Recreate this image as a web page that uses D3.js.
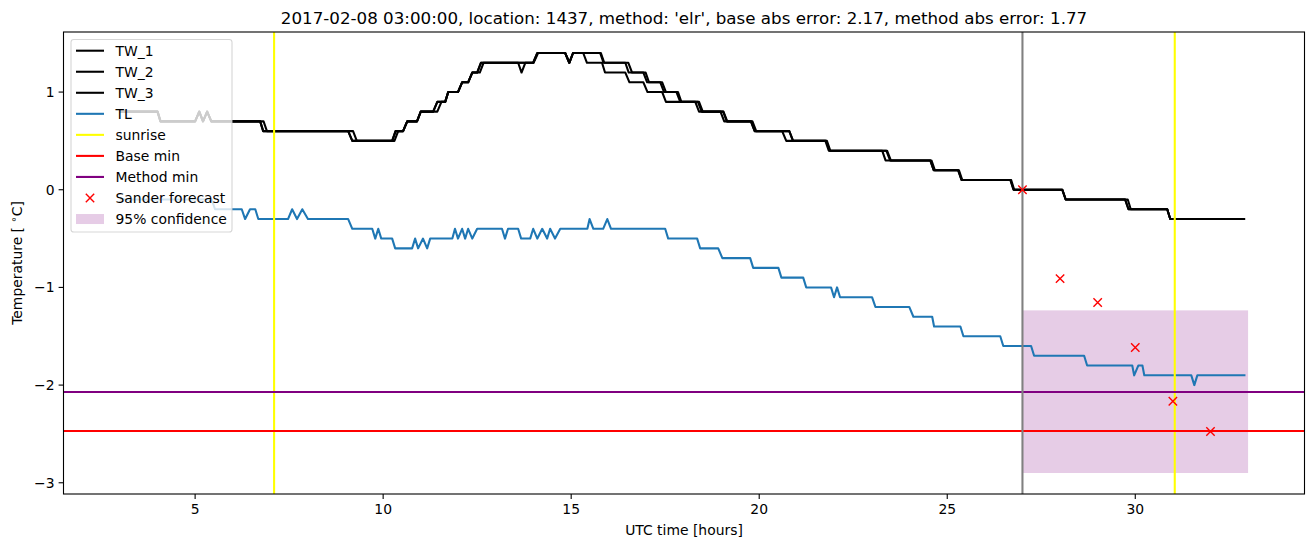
<!DOCTYPE html>
<html><head><meta charset="utf-8">
<script src="https://cdn.jsdelivr.net/npm/d3@7"></script>
<style>body{margin:0;background:#fff} svg{display:block} text{font-family:"DejaVu Sans",sans-serif;fill:#000}</style>
</head><body><svg id="c" width="1313" height="547"></svg>
<script>
// ---- data (hours UTC, temperature degC) ----
const TW_1 = [[3.0,0.8],[4.0,0.8],[4.08,0.7],[5.0,0.7],[5.11,0.8],[5.21,0.7],[5.32,0.8],[5.43,0.7],[6.73,0.7],[6.81,0.6],[9.07,0.6],[9.18,0.5],[10.24,0.5],[10.33,0.6],[10.53,0.6],[10.64,0.7],[10.9,0.7],[11.0,0.8],[11.33,0.8],[11.44,0.9],[11.65,0.9],[11.73,1.0],[11.99,1.0],[12.1,1.1],[12.26,1.1],[12.37,1.2],[12.5,1.2],[12.6,1.3],[13.59,1.3],[13.68,1.2],[13.78,1.3],[13.99,1.3],[14.1,1.4],[14.84,1.4],[14.95,1.3],[15.05,1.4],[15.32,1.4],[15.42,1.3],[15.82,1.3],[15.9,1.2],[16.44,1.2],[16.55,1.1],[16.92,1.1],[17.03,1.0],[17.42,1.0],[17.52,0.9],[18.3,0.9],[18.4,0.8],[18.97,0.8],[19.07,0.7],[19.78,0.7],[19.88,0.6],[20.61,0.6],[20.72,0.5],[21.76,0.5],[21.85,0.4],[23.27,0.4],[23.36,0.3],[24.55,0.3],[24.64,0.2],[25.29,0.2],[25.38,0.1],[26.68,0.1],[26.76,0.0],[28.06,0.0],[28.15,-0.1],[29.73,-0.1],[29.82,-0.2],[30.85,-0.2],[30.93,-0.3],[32.92,-0.3]];
const TW_2 = [[3.0,0.8],[4.0,0.8],[4.08,0.7],[5.0,0.7],[5.11,0.8],[5.21,0.7],[5.32,0.8],[5.43,0.7],[6.73,0.7],[6.81,0.6],[9.07,0.6],[9.18,0.5],[10.24,0.5],[10.33,0.6],[10.53,0.6],[10.64,0.7],[10.9,0.7],[11.0,0.8],[11.33,0.8],[11.44,0.9],[11.65,0.9],[11.73,1.0],[11.99,1.0],[12.1,1.1],[12.26,1.1],[12.37,1.2],[12.5,1.2],[12.6,1.3],[13.99,1.3],[14.1,1.4],[14.84,1.4],[14.95,1.3],[15.05,1.4],[15.77,1.4],[15.86,1.3],[16.44,1.3],[16.53,1.2],[16.92,1.2],[17.02,1.1],[17.37,1.1],[17.47,1.0],[17.8,1.0],[17.9,0.9],[18.37,0.9],[18.47,0.8],[19.04,0.8],[19.14,0.7],[19.78,0.7],[19.88,0.6],[20.8,0.6],[20.9,0.5],[21.8,0.5],[21.89,0.4],[23.38,0.4],[23.48,0.3],[24.58,0.3],[24.67,0.2],[25.31,0.2],[25.4,0.1],[26.68,0.1],[26.77,0.0],[28.06,0.0],[28.15,-0.1],[29.8,-0.1],[29.88,-0.2],[30.85,-0.2],[30.93,-0.3],[32.92,-0.3]];
const TW_3 = [[3.0,0.8],[4.0,0.8],[4.08,0.7],[5.0,0.7],[5.11,0.8],[5.21,0.7],[5.32,0.8],[5.43,0.7],[6.82,0.7],[6.91,0.6],[9.2,0.6],[9.3,0.5],[10.3,0.5],[10.4,0.6],[10.53,0.6],[10.64,0.7],[10.9,0.7],[11.0,0.8],[11.44,0.8],[11.55,0.9],[11.65,0.9],[11.73,1.0],[11.99,1.0],[12.1,1.1],[12.26,1.1],[12.37,1.2],[12.57,1.2],[12.67,1.3],[14.0,1.3],[14.12,1.4],[14.84,1.4],[14.95,1.3],[15.05,1.4],[15.79,1.4],[15.88,1.3],[16.52,1.3],[16.62,1.2],[16.98,1.2],[17.07,1.1],[17.42,1.1],[17.52,1.0],[17.84,1.0],[17.93,0.9],[18.4,0.9],[18.5,0.8],[19.05,0.8],[19.15,0.7],[19.82,0.7],[19.92,0.6],[20.8,0.6],[20.9,0.5],[21.78,0.5],[21.87,0.4],[23.4,0.4],[23.5,0.3],[24.55,0.3],[24.64,0.2],[25.29,0.2],[25.38,0.1],[26.7,0.1],[26.78,0.0],[28.06,0.0],[28.15,-0.1],[29.73,-0.1],[29.82,-0.2],[30.85,-0.2],[30.93,-0.3],[32.92,-0.3]];
const TL = [[3.0,-0.1],[5.44,-0.1],[5.53,-0.2],[6.24,-0.2],[6.33,-0.3],[6.46,-0.2],[6.6,-0.2],[6.68,-0.3],[7.47,-0.3],[7.58,-0.2],[7.71,-0.3],[7.85,-0.2],[8.0,-0.3],[9.07,-0.3],[9.18,-0.4],[9.71,-0.4],[9.79,-0.5],[9.87,-0.4],[9.95,-0.5],[10.24,-0.5],[10.32,-0.6],[10.77,-0.6],[10.85,-0.5],[10.93,-0.6],[11.06,-0.5],[11.17,-0.6],[11.25,-0.5],[11.84,-0.5],[11.91,-0.4],[11.99,-0.5],[12.1,-0.4],[12.18,-0.5],[12.26,-0.4],[12.37,-0.5],[12.5,-0.4],[13.16,-0.4],[13.24,-0.5],[13.32,-0.4],[13.59,-0.4],[13.67,-0.5],[13.91,-0.5],[13.99,-0.4],[14.1,-0.5],[14.23,-0.4],[14.36,-0.5],[14.44,-0.4],[14.57,-0.5],[14.71,-0.4],[15.43,-0.4],[15.49,-0.3],[15.59,-0.4],[15.85,-0.4],[15.96,-0.3],[16.06,-0.4],[17.5,-0.4],[17.58,-0.5],[18.35,-0.5],[18.43,-0.6],[18.91,-0.6],[19.02,-0.7],[19.76,-0.7],[19.84,-0.8],[20.51,-0.8],[20.59,-0.9],[21.17,-0.9],[21.25,-1.0],[21.91,-1.0],[21.99,-1.1],[22.07,-1.0],[22.15,-1.1],[23.0,-1.1],[23.09,-1.2],[23.99,-1.2],[24.1,-1.3],[24.6,-1.3],[24.65,-1.4],[25.35,-1.4],[25.43,-1.5],[26.41,-1.5],[26.49,-1.6],[27.23,-1.6],[27.31,-1.7],[28.64,-1.7],[28.72,-1.8],[29.92,-1.8],[29.97,-1.9],[30.08,-1.8],[30.19,-1.8],[30.24,-1.9],[31.49,-1.9],[31.57,-2.0],[31.65,-1.9],[32.93,-1.9]];
const forecastT = [27, 28, 29, 30, 31, 32];
const forecastV = [0.0, -0.91, -1.155, -1.615, -2.165, -2.475];
const sunriseT = [7.1, 31.05];
const baseMin = -2.47;
const methodMin = -2.07;
const forecastStartT = 27;
const confT = [27, 33];
const confLow = -2.9, confHigh = -1.235;
const xTicks = [5, 10, 15, 20, 25, 30];
const yTicks = [-3, -2, -1, 0, 1];
const titleText = "2017-02-08 03:00:00, location: 1437, method: 'elr', base abs error: 2.17, method abs error: 1.77";
const legendLabels = ["TW_1", "TW_2", "TW_3", "TL", "sunrise", "Base min", "Method min", "Sander forecast", "95% confidence"];

// ---- layout ----
const svg = d3.select("#c");
const L = 63.5, R = 1304.5, T = 32, B = 494;
const x = d3.scaleLinear().domain([1.5, 34.5]).range([L, R]);
const y = d3.scaleLinear().domain([-3.115, 1.615]).range([B, T]);
const LW = 2.08;

svg.append("defs").append("clipPath").attr("id", "clip")
  .append("rect").attr("x", L).attr("y", T).attr("width", R - L).attr("height", B - T);
const g = svg.append("g").attr("clip-path", "url(#clip)");

// confidence band
g.append("rect").attr("x", x(confT[0])).attr("width", x(confT[1]) - x(confT[0]))
  .attr("y", y(confHigh)).attr("height", y(confLow) - y(confHigh))
  .attr("fill", "purple").attr("fill-opacity", 0.2);

const line = d3.line().x(d => x(d[0])).y(d => y(d[1]));
[[TW_1, "#000"], [TW_2, "#000"], [TW_3, "#000"], [TL, "#1f77b4"]].forEach(([d, c]) => {
  g.append("path").datum(d).attr("d", line).attr("fill", "none").attr("stroke", c)
    .attr("stroke-width", LW).attr("stroke-linejoin", "round");
});
sunriseT.forEach(t => g.append("line").attr("x1", x(t)).attr("x2", x(t)).attr("y1", T).attr("y2", B)
  .attr("stroke", "yellow").attr("stroke-width", LW));
g.append("line").attr("x1", L).attr("x2", R).attr("y1", y(baseMin)).attr("y2", y(baseMin)).attr("stroke", "red").attr("stroke-width", LW);
g.append("line").attr("x1", L).attr("x2", R).attr("y1", y(methodMin)).attr("y2", y(methodMin)).attr("stroke", "purple").attr("stroke-width", LW);
g.append("line").attr("x1", x(forecastStartT)).attr("x2", x(forecastStartT)).attr("y1", T).attr("y2", B)
  .attr("stroke", "gray").attr("stroke-width", LW);

const ms = 4.2;
function xMark(sel, cx, cy) {
  sel.append("path").attr("d", `M${cx - ms},${cy - ms}L${cx + ms},${cy + ms}M${cx - ms},${cy + ms}L${cx + ms},${cy - ms}`)
    .attr("stroke", "red").attr("stroke-width", 1.4).attr("fill", "none");
}
forecastT.forEach((t, i) => xMark(g, x(t), y(forecastV[i])));

// ---- axes ----
const fs = 13.9;
const ax = svg.append("g");
ax.append("rect").attr("x", L).attr("y", T).attr("width", R - L).attr("height", B - T)
  .attr("fill", "none").attr("stroke", "#000").attr("stroke-width", 1.1);
xTicks.forEach(t => {
  ax.append("line").attr("x1", x(t)).attr("x2", x(t)).attr("y1", B).attr("y2", B + 4.9).attr("stroke", "#000").attr("stroke-width", 1.1);
  ax.append("text").attr("x", x(t)).attr("y", B + 20).attr("text-anchor", "middle").attr("font-size", fs).text(d3.format("d")(t));
});
yTicks.forEach(t => {
  ax.append("line").attr("x1", L - 4.9).attr("x2", L).attr("y1", y(t)).attr("y2", y(t)).attr("stroke", "#000").attr("stroke-width", 1.1);
  ax.append("text").attr("x", L - 9).attr("y", y(t) + 5).attr("text-anchor", "end").attr("font-size", fs)
    .text(t < 0 ? "\u2212" + Math.abs(t) : String(t));
});
ax.append("text").attr("x", (L + R) / 2).attr("y", 535).attr("text-anchor", "middle").attr("font-size", fs).text("UTC time [hours]");
const yl = ax.append("text").attr("transform", `translate(22,${(T + B) / 2}) rotate(-90)`).attr("text-anchor", "middle").attr("font-size", fs);
yl.append("tspan").text("Temperature [ ");
yl.append("tspan").attr("font-size", 10).attr("dy", -5).text("\u2218");
yl.append("tspan").attr("dy", 5).text("C]");
svg.append("text").attr("x", (L + R) / 2).attr("y", 24).attr("text-anchor", "middle").attr("font-size", 16.7).text(titleText);

// ---- legend ----
const lg = svg.append("g");
lg.append("rect").attr("x", 71).attr("y", 39.5).attr("width", 161).attr("height", 192.5).attr("rx", 2.8)
  .attr("fill", "#fff").attr("fill-opacity", 0.8).attr("stroke", "#cccccc").attr("stroke-opacity", 0.8).attr("stroke-width", 1.1);
const legendColors = ["#000", "#000", "#000", "#1f77b4", "yellow", "red", "purple", null, null];
legendLabels.forEach((lab, i) => {
  const cy = 50.7 + i * 21.04;
  if (i < 7) {
    lg.append("line").attr("x1", 76).attr("x2", 104).attr("y1", cy).attr("y2", cy).attr("stroke", legendColors[i]).attr("stroke-width", LW);
  } else if (i === 7) {
    xMark(lg, 90, cy);
  } else {
    lg.append("rect").attr("x", 76).attr("y", cy - 5).attr("width", 28).attr("height", 10).attr("fill", "purple").attr("fill-opacity", 0.2);
  }
  lg.append("text").attr("x", 115.5).attr("y", cy + 5).attr("font-size", fs).text(lab);
});
</script></body></html>
